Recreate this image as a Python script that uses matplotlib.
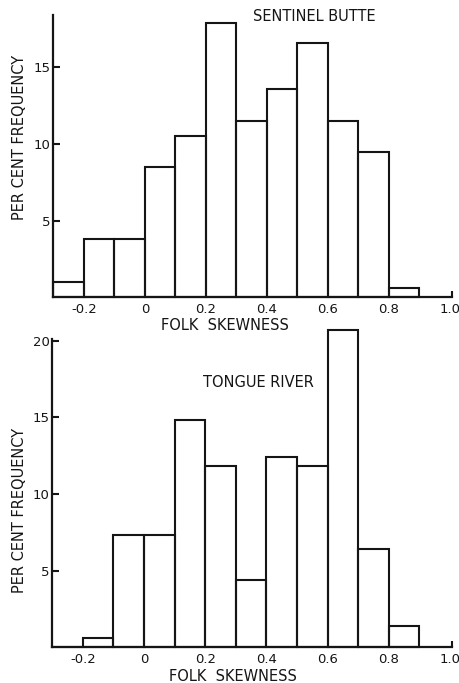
import matplotlib
matplotlib.use('Agg')
import matplotlib.pyplot as plt

# Folk skewness histograms, bins 0.1 wide from -0.3 to 0.9
bin_edges = [-0.3, -0.2, -0.1, 0.0, 0.1, 0.2, 0.3, 0.4, 0.5, 0.6, 0.7, 0.8, 0.9]
sentinel_butte = [1.0, 3.8, 3.8, 8.5, 10.5, 17.9, 11.5, 13.6, 16.6, 11.5, 9.5, 0.6]
tongue_river = [0.0, 0.6, 7.3, 7.3, 14.8, 11.8, 4.4, 12.4, 11.8, 20.7, 6.4, 1.4]

x_ticks = [-0.2, 0.0, 0.2, 0.4, 0.6, 0.8, 1.0]
x_tick_labels = ["-0.2", "0", "0.2", "0.4", "0.6", "0.8", "1.0"]

ink = "#151515"
plt.rcParams["font.family"] = "DejaVu Sans"

fig = plt.figure(figsize=(4.6, 6.83), dpi=100)
ax_top = fig.add_axes([0.1159, 0.5646, 0.8667, 0.4134])
ax_bot = fig.add_axes([0.1137, 0.0524, 0.8689, 0.4513])


def draw_hist(ax, heights, yticks, ymax, name, name_xy, xlabel_xy, ylabel_xy):
    ax.bar(bin_edges[:-1], heights, width=0.1, align="edge", fill=False,
           edgecolor=ink, linewidth=1.5, clip_on=False)
    ax.set_xlim(-0.3, 1.007)
    ax.set_ylim(0, ymax)
    for side in ["top", "right"]:
        ax.spines[side].set_visible(False)
    for side in ["left", "bottom"]:
        ax.spines[side].set_linewidth(1.6)
        ax.spines[side].set_color(ink)

    ax.set_xticks(x_ticks)
    ax.set_xticklabels(x_tick_labels)
    ax.set_xticks([1.007], minor=True)
    ax.tick_params(axis="x", which="major", length=0, pad=4, labelsize=9.5, labelcolor=ink)
    ax.tick_params(axis="x", which="minor", direction="in", length=4, width=1.5, color=ink)

    ax.set_yticks(yticks)
    ax.set_yticklabels([str(t) for t in yticks])
    ax.tick_params(axis="y", direction="in", length=5, width=1.5, color=ink,
                   pad=2, labelsize=9.5, labelcolor=ink)

    ax.set_xlabel("FOLK  SKEWNESS", fontsize=10.5, color=ink)
    ax.xaxis.set_label_coords(*xlabel_xy)
    ax.set_ylabel("PER CENT FREQUENCY", fontsize=10.5, color=ink)
    ax.yaxis.set_label_coords(*ylabel_xy)

    ax.text(name_xy[0], name_xy[1], name, ha="center", va="center",
            fontsize=10.5, color=ink)


draw_hist(ax_top, sentinel_butte, [5, 10, 15], 18.4, "SENTINEL BUTTE",
          (0.555, 18.29), (0.43, -0.072), (-0.066, 0.568))
draw_hist(ax_bot, tongue_river, [5, 10, 15, 20], 20.1, "TONGUE RIVER",
          (0.373, 17.27), (0.452, -0.07), (-0.063, 0.445))

fig.savefig("out.png", dpi=100, facecolor="white")
